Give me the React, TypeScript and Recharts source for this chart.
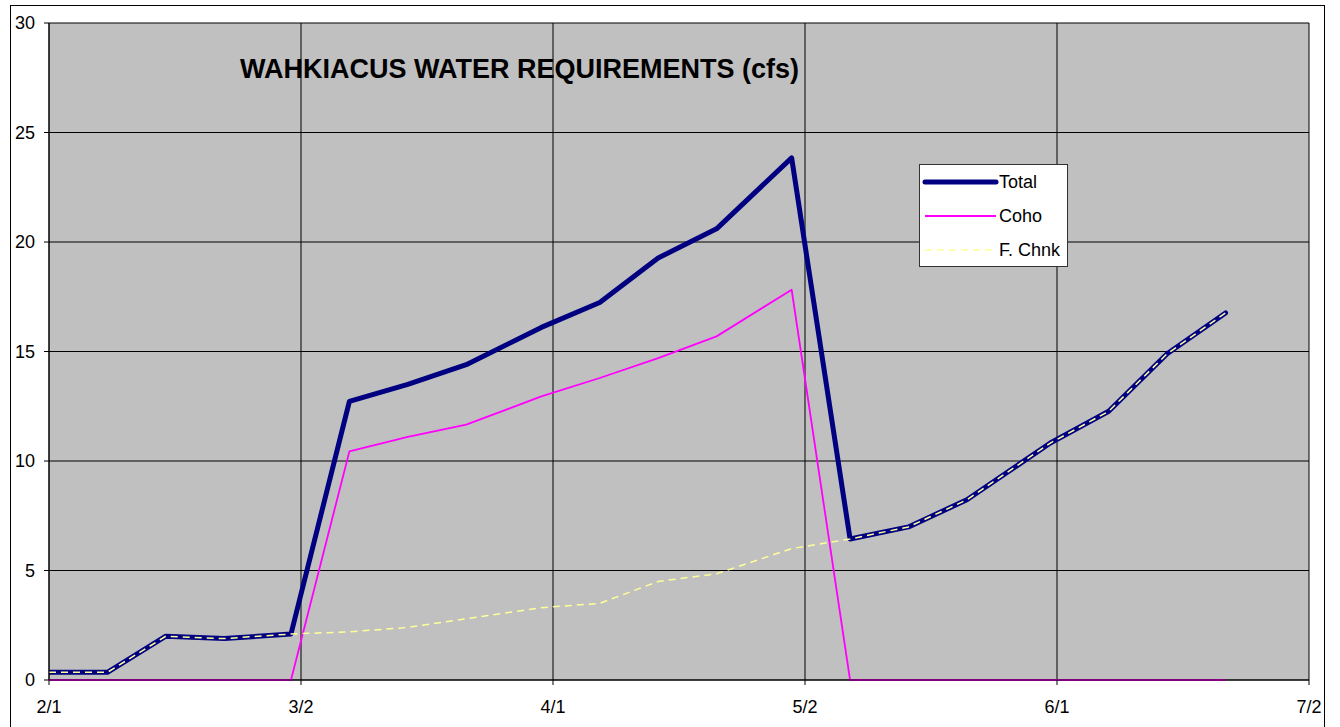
import { CartesianGrid, Legend, Line, LineChart, XAxis, YAxis } from "recharts";

// days after 2/1 for each reading
const days = [0, 7, 14, 21, 29, 36, 43, 50, 59, 66, 73, 80, 89, 96, 103, 110, 120, 127, 134, 141];

const total = [0.35, 0.35, 2.0, 1.89, 2.1, 12.72, 13.5, 14.4, 16.1, 17.24, 19.27, 20.6, 23.84, 6.44, 6.99, 8.23, 10.82, 12.27, 14.9, 16.76];
const coho = [0, 0, 0, 0, 0, 10.44, 11.1, 11.66, 12.95, 13.79, 14.7, 15.69, 17.82, 0, 0, 0, 0, 0, 0, 0];
const chinook = [0.35, 0.35, 2.0, 1.89, 2.1, 2.2, 2.4, 2.8, 3.3, 3.5, 4.5, 4.85, 6.0, 6.44, 6.99, 8.23, 10.82, 12.27, 14.9, 16.76];

const xTicks = [0, 30.2, 60.4, 90.6, 120.8, 151];
const xLabels = ["2/1", "3/2", "4/1", "5/2", "6/1", "7/2"];
const yTicks = [0, 5, 10, 15, 20, 25, 30];

const data = days.map((d, i) => ({
  day: d,
  total: total[i],
  coho: coho[i],
  chinook: chinook[i],
}));

const series = [
  { key: "total", name: "Total", color: "#000080", width: 5, dash: undefined as string | undefined },
  { key: "coho", name: "Coho", color: "#FF00FF", width: 1.8, dash: undefined as string | undefined },
  { key: "chinook", name: "F. Chnk", color: "#FFFF99", width: 1.5, dash: "7 5" },
];

const font = "'Liberation Sans', Arial, sans-serif";

function LegendBox() {
  return (
    <div style={{ fontFamily: font, fontSize: 18, color: "#000" }}>
      {series.map((s) => (
        <div key={s.key} style={{ display: "flex", alignItems: "center", height: 34 }}>
          <svg width={79} height={10}>
            <line
              x1={5}
              x2={76}
              y1={5}
              y2={5}
              stroke={s.color}
              strokeWidth={s.width}
              strokeDasharray={s.dash}
              strokeLinecap={s.key === "total" ? "round" : "butt"}
            />
          </svg>
          <span>{s.name}</span>
        </div>
      ))}
    </div>
  );
}

export default function App() {
  return (
    <div
      style={{
        position: "absolute",
        left: 0,
        top: 0,
        width: 1340,
        height: 727,
        background: "#fff",
        overflow: "hidden",
        fontFamily: font,
      }}
    >
      <div
        style={{
          position: "absolute",
          left: 10,
          top: 5,
          width: 1315,
          height: 740,
          border: "1.5px solid #000",
          boxSizing: "border-box",
        }}
      />
      <LineChart
        width={1340}
        height={727}
        data={data}
        margin={{ top: 23, right: 31, left: 10, bottom: 17 }}
        style={{ position: "absolute", left: 0, top: 0 }}
      >
        <CartesianGrid stroke="#000" strokeWidth={1} fill="#C0C0C0" fillOpacity={1} />
        <XAxis
          dataKey="day"
          type="number"
          domain={[0, 151]}
          ticks={xTicks}
          tickFormatter={(v: number) => xLabels[xTicks.indexOf(v)] ?? ""}
          height={30}
          stroke="#000"
          tickLine={{ stroke: "#000" }}
          tickSize={5}
          tickMargin={15}
          tick={{ fontSize: 18, fill: "#000", fontFamily: font }}
          interval={0}
          allowDataOverflow
        />
        <YAxis
          type="number"
          domain={[0, 30]}
          ticks={yTicks}
          width={39}
          stroke="#000"
          tickLine={{ stroke: "#000" }}
          tickSize={5}
          tickMargin={9}
          tick={{ fontSize: 18, fill: "#000", fontFamily: font }}
          interval={0}
        />
        <Legend
          layout="vertical"
          align="center"
          verticalAlign="middle"
          content={() => <LegendBox />}
          wrapperStyle={{
            position: "absolute",
            left: 919,
            top: 164,
            width: 149,
            height: 103,
            background: "#fff",
            border: "1px solid #333",
            boxSizing: "border-box",
          }}
        />
        {series.map((s) => (
          <Line
            key={s.key}
            type="linear"
            dataKey={s.key}
            name={s.name}
            stroke={s.color}
            strokeWidth={s.width}
            strokeDasharray={s.dash}
            strokeLinejoin="round"
            strokeLinecap={s.key === "total" ? "round" : "butt"}
            dot={false}
            activeDot={false}
            isAnimationActive={false}
          />
        ))}
      </LineChart>
      <div
        style={{
          position: "absolute",
          left: 240,
          top: 56,
          fontSize: 27,
          lineHeight: "26px",
          fontWeight: "bold",
          color: "#000",
          whiteSpace: "nowrap",
        }}
      >
        WAHKIACUS WATER REQUIREMENTS (cfs)
      </div>
    </div>
  );
}
